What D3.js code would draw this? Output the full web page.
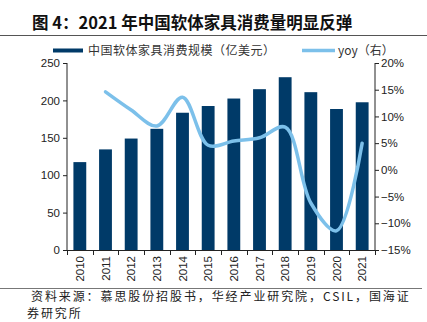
<!DOCTYPE html>
<html><head><meta charset="utf-8">
<script src="https://cdn.jsdelivr.net/npm/d3@7"></script>
<style>body{margin:0;background:#fff}svg{display:block}</style>
</head><body><svg id="c" width="427" height="322"></svg>
<script>
const years = ["2010","2011","2012","2013","2014","2015","2016","2017","2018","2019","2020","2021"];
const consumption = [117.5, 134.5, 149, 162, 183.5, 192.5, 202.5, 215, 231, 211, 188.5, 197.5];
const yoy = [null, 14.6, 11.2, 8.2, 13.6, 4.6, 5.4, 6.0, 8.0, -6.2, -11.4, 5.0];
const leftTicks = [0, 50, 100, 150, 200, 250];
const rightTicks = [-15, -10, -5, 0, 5, 10, 15, 20];
const title = "图 4：2021 年中国软体家具消费量明显反弹";
const legendBar = "中国软体家具消费规模（亿美元）";
const legendLine = "yoy（右）";
const source1 = "资料来源：慕思股份招股书，华经产业研究院，CSIL，国海证";
const source2 = "券研究所";

const svg = d3.select("#c");
const L = 67, R = 375, T = 63, B = 250;
const barColor = "#003a68", lineColor = "#7cc0ea", axisColor = "#222";
const cjk = "'Noto Sans CJK SC', sans-serif";
const latin = "'Liberation Sans', Arial, sans-serif";

const x = d3.scaleBand().domain(years).range([L, R]).paddingInner(0.5).paddingOuter(0.25);
const yL = d3.scaleLinear().domain([0, 250]).range([B, T]);
const yR = d3.scaleLinear().domain([-15, 20]).range([B, T]);

// title
svg.append("text").attr("x", 32).attr("y", 29).attr("font-family", cjk)
  .attr("font-weight", "bold").attr("font-size", 16.5).attr("fill", "#111").text(title);
svg.append("line").attr("x1", 0).attr("x2", 427).attr("y1", 35.5).attr("y2", 35.5)
  .attr("stroke", "#555").attr("stroke-width", 1);

// legend
svg.append("rect").attr("x", 53).attr("y", 48.5).attr("width", 30).attr("height", 4).attr("fill", barColor);
svg.append("text").attr("x", 88).attr("y", 55).attr("font-family", cjk).attr("font-size", 12)
  .attr("letter-spacing", 0.5).attr("fill", "#333").text(legendBar);
svg.append("line").attr("x1", 302).attr("x2", 335).attr("y1", 50.5).attr("y2", 50.5)
  .attr("stroke", lineColor).attr("stroke-width", 3.5);
svg.append("text").attr("x", 338).attr("y", 55).attr("font-family", cjk).attr("font-size", 12)
  .attr("fill", "#333").text(legendLine);

// bars
svg.append("g").selectAll("rect").data(years).join("rect")
  .attr("x", d => x(d)).attr("width", x.bandwidth())
  .attr("y", (d, i) => yL(consumption[i])).attr("height", (d, i) => B - yL(consumption[i]))
  .attr("fill", barColor);

// axes
const gl = svg.append("g").attr("transform", `translate(${L},0)`)
  .call(d3.axisLeft(yL).tickValues(leftTicks).tickSize(4).tickPadding(3));
const gr = svg.append("g").attr("transform", `translate(${R},0)`)
  .call(d3.axisRight(yR).tickValues(rightTicks).tickSize(4).tickPadding(2).tickFormat(d => (d < 0 ? "−" + Math.abs(d) : d) + "%"));
[gl, gr].forEach(g => {
  g.selectAll("path,line").attr("stroke", axisColor);
  g.selectAll("text").attr("font-family", latin).attr("font-size", 11.5).attr("fill", "#222");
});
gl.select(".domain").attr("d", `M0,${T}H0V${B}`);
gr.select(".domain").attr("d", `M0,${T}H0V${B}`);

// x axis
const gx = svg.append("g");
gx.append("line").attr("x1", L).attr("x2", R).attr("y1", B + 0.5).attr("y2", B + 0.5).attr("stroke", axisColor);
const step = x.step();
gx.selectAll("line.t").data(d3.range(years.length + 1)).join("line").attr("class", "t")
  .attr("x1", i => Math.round(L + i * step) + 0.5).attr("x2", i => Math.round(L + i * step) + 0.5)
  .attr("y1", B).attr("y2", B + 5).attr("stroke", axisColor);
gx.selectAll("text").data(years).join("text")
  .attr("transform", d => `translate(${x(d) + x.bandwidth() / 2 + 4},${256}) rotate(-90)`)
  .attr("text-anchor", "end").attr("font-family", latin).attr("font-size", 11.5).attr("fill", "#222").text(d => d);

// yoy line
const pts = years.map((d, i) => [x(d) + x.bandwidth() / 2, yoy[i]]).filter(p => p[1] !== null);
svg.append("path").datum(pts)
  .attr("d", d3.line().x(p => p[0]).y(p => yR(p[1])).curve(d3.curveCatmullRom.alpha(0.5)))
  .attr("fill", "none").attr("stroke", lineColor).attr("stroke-width", 3.5).attr("stroke-linecap", "round");

// source
svg.append("line").attr("x1", 0).attr("x2", 422).attr("y1", 288.5).attr("y2", 288.5)
  .attr("stroke", "#777").attr("stroke-width", 1);
svg.append("text").attr("x", 31).attr("y", 300.5).attr("font-family", cjk).attr("font-size", 12)
  .attr("letter-spacing", 1.9).attr("fill", "#222").text(source1);
svg.append("text").attr("x", 27).attr("y", 318).attr("font-family", cjk).attr("font-size", 12)
  .attr("letter-spacing", 1.9).attr("fill", "#222").text(source2);
</script></body></html>
